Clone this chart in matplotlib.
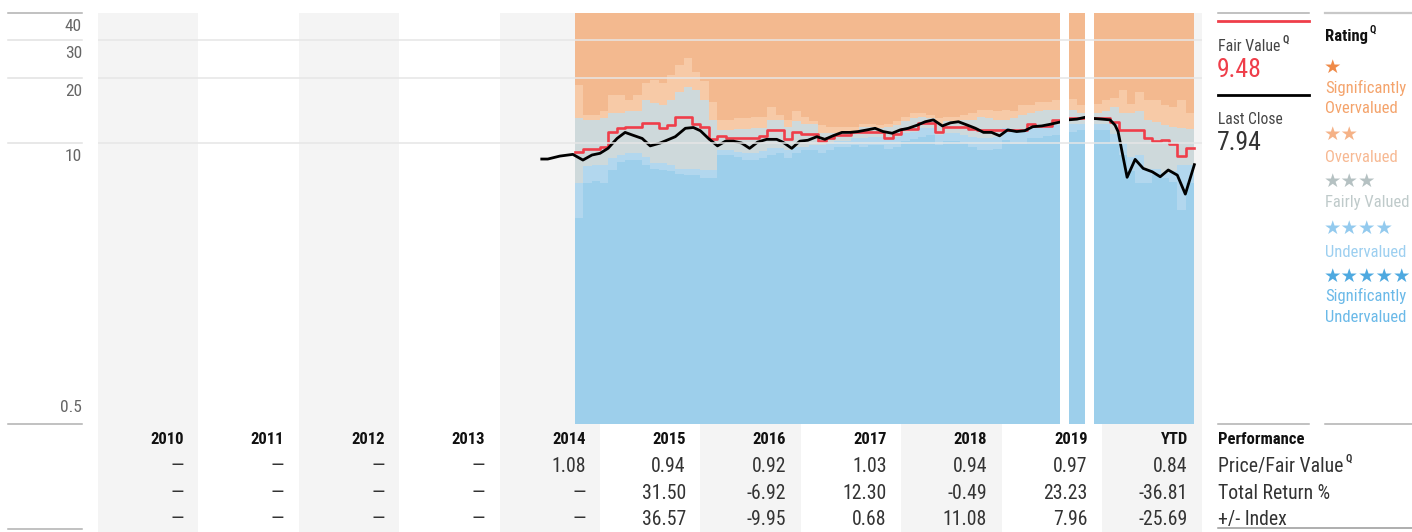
import os
import glob
import numpy as np
import matplotlib
matplotlib.use('Agg')
import matplotlib.pyplot as plt
import matplotlib.transforms as mtransforms
from matplotlib.lines import Line2D
from matplotlib import font_manager as fm
from matplotlib.font_manager import FontProperties

W, H = 1412, 532

# ---------------- data ----------------
col_labels = ['2010', '2011', '2012', '2013', '2014', '2015', '2016', '2017', '2018', '2019', 'YTD']
col_start = 2010
y_ticks = [40, 30, 20, 10, 0.5]

band_start = 2014 + 9 / 12          # first month with rating bands: Oct 2014
missing_months = [2019 + 7 / 12, 2019 + 10 / 12]   # Aug 2019, Nov 2019

nan = np.nan
fair_value = [9.1, 9.35, 9.35, 9.6, 11.3, 11.7, 11.9, 11.9, 12.4, 12.4, 11.7, 12.1,
              13.2, 13.2, 12.2, 11.8, 10.4, 10.8, 10.5, 10.5, 10.5, 10.6, 10.8, 11.5,
              11.5, 10.4, 11.3, 11.0, 11.0, 10.2, 10.5, 10.9, 10.9, 11.3, 11.3, 11.2,
              11.2, 10.6, 11.0, 11.6, 11.6, 12.4, 12.4, 11.2, 11.9, 11.9, 11.8, 11.6,
              11.5, 11.5, 11.5, 11.5, 11.5, 11.5, 12.2, 12.0, 12.0, 12.8, nan, 13.0,
              13.0, nan, 13.0, 13.1, 12.5, 11.5, 11.5, 11.5, 10.5, 10.25, 10.3, 9.9,
              8.7, 9.48]
thr_1star = [18.5, 13.5, 13.5, 14.0, 16.7, 16.7, 15.8, 16.7, 18.9, 19.6, 18.9, 20.7,
             23.0, 24.7, 21.4, 19.3, 15.5, 12.8, 12.8, 13.0, 13.0, 13.2, 13.2, 14.7,
             13.5, 12.8, 14.0, 13.2, 12.6, 12.1, 11.9, 11.9, 11.9, 11.9, 12.3, 12.3,
             12.1, 12.3, 12.6, 13.2, 13.7, 13.7, 13.5, 13.0, 13.2, 13.2, 13.5, 13.7,
             14.2, 14.2, 14.0, 14.2, 14.0, 15.0, 15.0, 15.5, 15.5, 15.8, nan, 16.0,
             15.0, nan, 15.2, 15.8, 16.2, 17.6, 15.2, 17.3, 15.8, 15.8, 15.0, 14.7,
             15.8, 13.7]
thr_2star = [13.0, 12.8, 12.8, 13.0, 13.7, 13.7, 14.0, 14.0, 15.8, 15.3, 15.0, 15.8,
             17.3, 18.2, 17.6, 15.8, 12.8, 11.5, 11.5, 11.6, 11.6, 11.7, 11.7, 12.8,
             12.8, 11.9, 12.6, 12.3, 12.3, 11.1, 11.1, 11.1, 11.1, 11.3, 11.8, 11.8,
             11.7, 11.9, 12.1, 12.6, 13.0, 13.2, 13.0, 12.3, 12.6, 12.6, 12.8, 12.8,
             13.2, 13.0, 12.8, 12.8, 13.0, 13.5, 13.7, 14.0, 14.2, 14.2, nan, 14.2,
             13.7, nan, 13.7, 14.0, 14.7, 13.7, 13.7, 14.0, 12.8, 12.55, 12.1, 11.9,
             11.7, 11.6]
thr_3star = [6.5, 7.8, 7.9, 7.9, 8.5, 8.8, 9.0, 9.0, 8.6, 8.1, 8.1, 7.9,
             7.6, 7.6, 7.6, 7.5, 7.5, 9.3, 9.3, 9.1, 9.0, 9.0, 9.2, 9.5,
             9.5, 9.3, 9.6, 9.6, 9.8, 9.8, 10.0, 10.2, 10.2, 10.5, 10.5, 10.7,
             10.7, 10.5, 10.7, 11.1, 11.3, 11.7, 11.7, 10.9, 11.1, 11.1, 10.9, 10.7,
             10.5, 10.5, 10.7, 11.7, 11.5, 11.3, 11.7, 11.7, 11.9, 12.1, nan, 12.3,
             12.2, nan, 12.3, 12.3, 11.0, 10.0, 8.6, 8.8, 7.6, 7.6, 7.3, 7.4,
             7.9, 7.9]
thr_4star = [4.5, 6.5, 6.7, 6.5, 7.5, 8.2, 8.3, 8.3, 7.9, 7.6, 7.5, 7.4,
             7.2, 7.1, 7.1, 6.9, 6.9, 8.8, 8.8, 8.6, 8.3, 8.3, 8.5, 8.8,
             9.0, 8.5, 9.0, 9.3, 9.3, 9.0, 9.3, 9.6, 9.6, 9.8, 9.6, 9.8,
             9.8, 9.4, 9.6, 10.2, 10.4, 10.7, 10.9, 9.8, 10.2, 10.2, 10.0, 9.6,
             9.3, 9.3, 9.4, 10.3, 9.9, 9.9, 10.5, 10.5, 10.8, 10.9, nan, 11.2,
             11.5, nan, 11.5, 11.5, 10.0, 8.8, 7.4, 6.5, 6.5, 7.1, 6.9, 6.6,
             4.9, 6.5]

price_t = [2014.42, 2014.48, 2014.60, 2014.73, 2014.83, 2014.92, 2015.00, 2015.08,
           2015.17, 2015.25, 2015.32, 2015.42, 2015.50, 2015.60, 2015.75, 2015.85,
           2015.93, 2016.00, 2016.08, 2016.17, 2016.25, 2016.33, 2016.41, 2016.49,
           2016.57, 2016.66, 2016.76, 2016.82, 2016.91, 2016.99, 2017.07, 2017.16,
           2017.24, 2017.32, 2017.41, 2017.49, 2017.57, 2017.66, 2017.74, 2017.82,
           2017.91, 2017.99, 2018.07, 2018.16, 2018.24, 2018.32, 2018.41, 2018.49,
           2018.57, 2018.66, 2018.74, 2018.82, 2018.90, 2018.98, 2019.06, 2019.15,
           2019.23, 2019.31, 2019.40, 2019.48, 2019.58, 2019.66, 2019.75, 2019.83,
           2019.91, 2020.00, 2020.08, 2020.13, 2020.16, 2020.25, 2020.33, 2020.41,
           2020.50, 2020.58, 2020.66, 2020.75, 2020.83, 2020.92]
price_v = [8.43, 8.43, 8.7, 8.86, 8.34, 8.8, 8.96, 9.45,
           10.5, 11.2, 10.9, 10.5, 9.7, 10.0, 10.7, 11.7,
           11.8, 11.4, 10.5, 9.7, 10.2, 10.2, 10.0, 9.45,
           10.1, 10.4, 10.4, 10.1, 9.45, 10.2, 10.3, 10.7,
           10.4, 10.8, 11.2, 11.2, 11.3, 11.5, 11.7, 11.3,
           11.1, 11.5, 11.7, 12.1, 12.55, 12.8, 12.0, 12.4,
           12.55, 12.1, 11.7, 11.2, 11.2, 10.8, 11.5, 11.3,
           11.4, 11.9, 12.0, 12.2, 12.5, 12.8, 12.9, 13.15,
           13.0, 12.9, 12.8, 12.1, 11.3, 6.94, 8.4, 7.63,
           7.36, 6.98, 7.5, 7.1, 5.8, 7.94]

fair_value_last = '9.48'
last_close = '7.94'

perf_rows = ['Price/Fair Value', 'Total Return %', '+/- Index']
price_fair = ['—', '—', '—', '—', '1.08', '0.94', '0.92', '1.03', '0.94', '0.97', '0.84']
total_return = ['—', '—', '—', '—', '—', '31.50', '-6.92', '12.30', '-0.49', '23.23', '-36.81']
plus_minus_index = ['—', '—', '—', '—', '—', '36.57', '-9.95', '0.68', '11.08', '7.96', '-25.69']

rating_stars = ['★', '★★', '★★★', '★★★★', '★★★★★']
rating_labels = [['Significantly', 'Overvalued'], ['Overvalued'], ['Fairly Valued'],
                 ['Undervalued'], ['Significantly', 'Undervalued']]

# ---------------- fonts ----------------
def find_font(names):
    found = {}
    for f in fm.fontManager.ttflist:
        found.setdefault(os.path.basename(f.fname).lower(), f.fname)
    for d in ['/usr/share/fonts', '/usr/local/share/fonts', os.path.expanduser('~/.fonts'),
              os.path.expanduser('~/.local/share/fonts')]:
        for p in glob.glob(os.path.join(d, '**', '*.[ot]tf'), recursive=True):
            found.setdefault(os.path.basename(p).lower(), p)
    for nme in names:
        if nme.lower() in found:
            return found[nme.lower()]
    return None


REG = find_font(['LiberationSansNarrow-Regular.ttf', 'RobotoCondensed-Regular.ttf',
                 'DejaVuSansCondensed.ttf', 'NotoSans-CondensedRegular.ttf',
                 'OpenSans-CondensedRegular.ttf'])
BOLD = find_font(['LiberationSansNarrow-Bold.ttf', 'RobotoCondensed-Bold.ttf',
                  'DejaVuSansCondensed-Bold.ttf', 'NotoSans-CondensedBold.ttf',
                  'OpenSans-CondensedBold.ttf'])
SCALE = 1.0 if REG is not None else 0.86


def fp(size, bold=False):
    size = size * SCALE
    path = BOLD if bold else REG
    if path is not None:
        return FontProperties(fname=path, size=size)
    return FontProperties(family=['Roboto', 'DejaVu Sans'], size=size,
                          weight='bold' if bold else 'normal')


# ---------------- style ----------------
C_ORANGE = '#f3b98f'
C_PEACH = '#f7caa7'
C_GRAY = '#ced9db'
C_LBLUE = '#b2d7ee'
C_BLUE = '#9dcfeb'
C_COLBG = '#f4f4f4'
C_RED = '#ef3e4a'
star_colors = ['#ef8a48', '#f5b287', '#b5c1c2', '#93caee', '#4ea9e0']
label_colors = ['#f4a36b', '#f7b993', '#bfcaca', '#9ccff0', '#6ab9e8']

fig = plt.figure(figsize=(W / 100, H / 100), dpi=100)
renderer = fig.canvas.get_renderer()


def fx(px):
    return px / W


def fy(py):
    return 1 - py / H


def sup_q(txt, dy, color):
    bb = txt.get_window_extent(renderer=renderer)
    fig.text(fx(bb.x1 + 2), fy(dy), 'Q', fontproperties=fp(7.5, True), color=color,
             va='baseline')


ncol = len(col_labels)
ax_l, ax_r = 98, 1202.4
ax_bg = fig.add_axes([fx(ax_l), 0, fx(ax_r - ax_l), fy(13)])
ax_bg.set_xlim(col_start, col_start + ncol)
ax_bg.set_ylim(0, 1)
ax_bg.axis('off')
for i in range(0, ncol, 2):
    ax_bg.axvspan(col_start + i, col_start + i + 1, color=C_COLBG, lw=0)

ax = fig.add_axes([fx(ax_l), fy(424), fx(ax_r - ax_l), fy(13) - fy(424)])
ax.set_facecolor('none')
ax.set_yscale('log')
ax.set_ylim(0.5, 40)
ax.set_xlim(col_start, col_start + ncol)
for s in ax.spines.values():
    s.set_visible(False)
ax.set_xticks([])
ax.set_yticks([])
ax.minorticks_off()

n = len(fair_value)
edges = band_start + np.arange(n + 1) / 12.0


def runs(vals):
    vals = np.asarray(vals, float)
    ok = ~np.isnan(vals)
    i = 0
    while i < len(vals):
        if ok[i]:
            j = i
            while j < len(vals) and ok[j]:
                j += 1
            yield i, j
            i = j
        else:
            i += 1


lo_bound = [0.5] * n
hi_bound = [40] * n
bands = [(lo_bound, thr_4star, C_BLUE), (thr_4star, thr_3star, C_LBLUE),
         (thr_3star, thr_2star, C_GRAY), (thr_2star, thr_1star, C_PEACH),
         (thr_1star, hi_bound, C_ORANGE)]
for lo, hi, c in bands:
    lo = np.asarray(lo, float)
    hi = np.asarray(hi, float)
    for i0, i1 in runs(fair_value):
        x = edges[i0:i1 + 1]
        ylo = np.append(lo[i0:i1], lo[i1 - 1])
        yhi = np.append(hi[i0:i1], hi[i1 - 1])
        ax.fill_between(x, ylo, yhi, step='post', color=c, lw=0, zorder=1)

fv = np.asarray(fair_value, float)
for i0, i1 in runs(fair_value):
    x = edges[i0:i1 + 1]
    y = np.append(fv[i0:i1], fv[i1 - 1])
    ax.step(x, y, where='post', color=C_RED, lw=1.9, zorder=3)

ax.plot(price_t, price_v, color='black', lw=2.0, zorder=3, solid_joinstyle='round')

for m in missing_months:
    ax.axvspan(m, m + 1 / 12, color='white', lw=0, zorder=4)

for v in y_ticks[1:-1]:
    ax.axhline(v, color='#e6e6e6', lw=1.1, zorder=5)

ytr = ax.get_yaxis_transform()
lab_x = (82 - ax_l) / (ax_r - ax_l)
line_x0 = (8 - ax_l) / (ax_r - ax_l)
for v in y_ticks:
    off = 11.5 if v == min(y_ticks) else -17.8
    tr = mtransforms.offset_copy(ytr, fig=fig, x=0, y=off, units='dots')
    ax.text(lab_x, v, f'{v:g}', transform=tr, ha='right', va='baseline',
            fontproperties=fp(12.5), color='#666666', clip_on=False)
    lc = '#b0b0b0' if v in (max(y_ticks), min(y_ticks)) else '#e2e2e2'
    ax.plot([line_x0, lab_x], [v, v], transform=ytr, color=lc, lw=1.1, clip_on=False)

fig.add_artist(Line2D([fx(8), fx(82)], [fy(529), fy(529)], color='#b0b0b0', lw=1.1))

# ---------------- performance table ----------------
ttr = mtransforms.blended_transform_factory(ax_bg.transData, fig.transFigure)
for i, lab in enumerate(col_labels):
    xr = col_start + i + 1 - 0.145
    ax_bg.text(xr, fy(443.5), lab, transform=ttr, ha='right', va='baseline',
               fontproperties=fp(12, True), color='#111111')
    for rowvals, yb in ((price_fair, 472), (total_return, 499), (plus_minus_index, 525)):
        ax_bg.text(xr, fy(yb), rowvals[i], transform=ttr, ha='right', va='baseline',
                   fontproperties=fp(14.2), color='#333333')

fig.text(fx(1218), fy(443.5), 'Performance', fontproperties=fp(12, True),
         color='#111111', va='baseline')
t = fig.text(fx(1218), fy(472), perf_rows[0], fontproperties=fp(14.2), color='#333333',
             va='baseline')
sup_q(t, 462, '#333333')
fig.text(fx(1218), fy(499), perf_rows[1], fontproperties=fp(14.2), color='#333333', va='baseline')
fig.text(fx(1218), fy(525), perf_rows[2], fontproperties=fp(14.2), color='#333333', va='baseline')

for (x0, x1, y, c, lw) in [(1218, 1309, 424, '#b0b0b0', 1.1), (1325, 1412, 424, '#b0b0b0', 1.1),
                           (1218, 1412, 528, '#999999', 1.1),
                           (1218, 1309, 13, '#b0b0b0', 1.1), (1325, 1412, 13, '#c8c8c8', 1.6),
                           (1218, 1309, 21, C_RED, 2.0), (1218, 1309, 95, 'black', 2.0)]:
    fig.add_artist(Line2D([fx(x0), fx(x1)], [fy(y), fy(y)], color=c, lw=lw))

# ---------------- right legend ----------------
t = fig.text(fx(1218), fy(50.7), 'Fair Value', fontproperties=fp(11.4), color='#444444',
             va='baseline')
sup_q(t, 43, '#444444')
fig.text(fx(1217), fy(76.7), fair_value_last, fontproperties=fp(18.5), color=C_RED, va='baseline')
fig.text(fx(1218), fy(124), 'Last Close', fontproperties=fp(11.2), color='#444444', va='baseline')
fig.text(fx(1217), fy(150), last_close, fontproperties=fp(18.5), color='#333333', va='baseline')

t = fig.text(fx(1325), fy(40.5), 'Rating', fontproperties=fp(12, True), color='#111111',
             va='baseline')
sup_q(t, 33, '#111111')

star_y = [67, 134, 181.5, 228.5, 276]
label_base = [[92.5, 113.3], [161.7], [207.5], [256.7], [301.5, 321.7]]
for stars, sy, lbls, lys, sc, lc in zip(rating_stars, star_y, rating_labels, label_base,
                                        star_colors, label_colors):
    fig.text(fx(1324), fy(sy), stars, fontsize=14, color=sc, va='center',
             family=['DejaVu Sans'])
    for l, ly in zip(lbls, lys):
        fig.text(fx(1325), fy(ly), l, fontproperties=fp(12), color=lc, va='baseline')

fig.savefig('out.png', dpi=100)
